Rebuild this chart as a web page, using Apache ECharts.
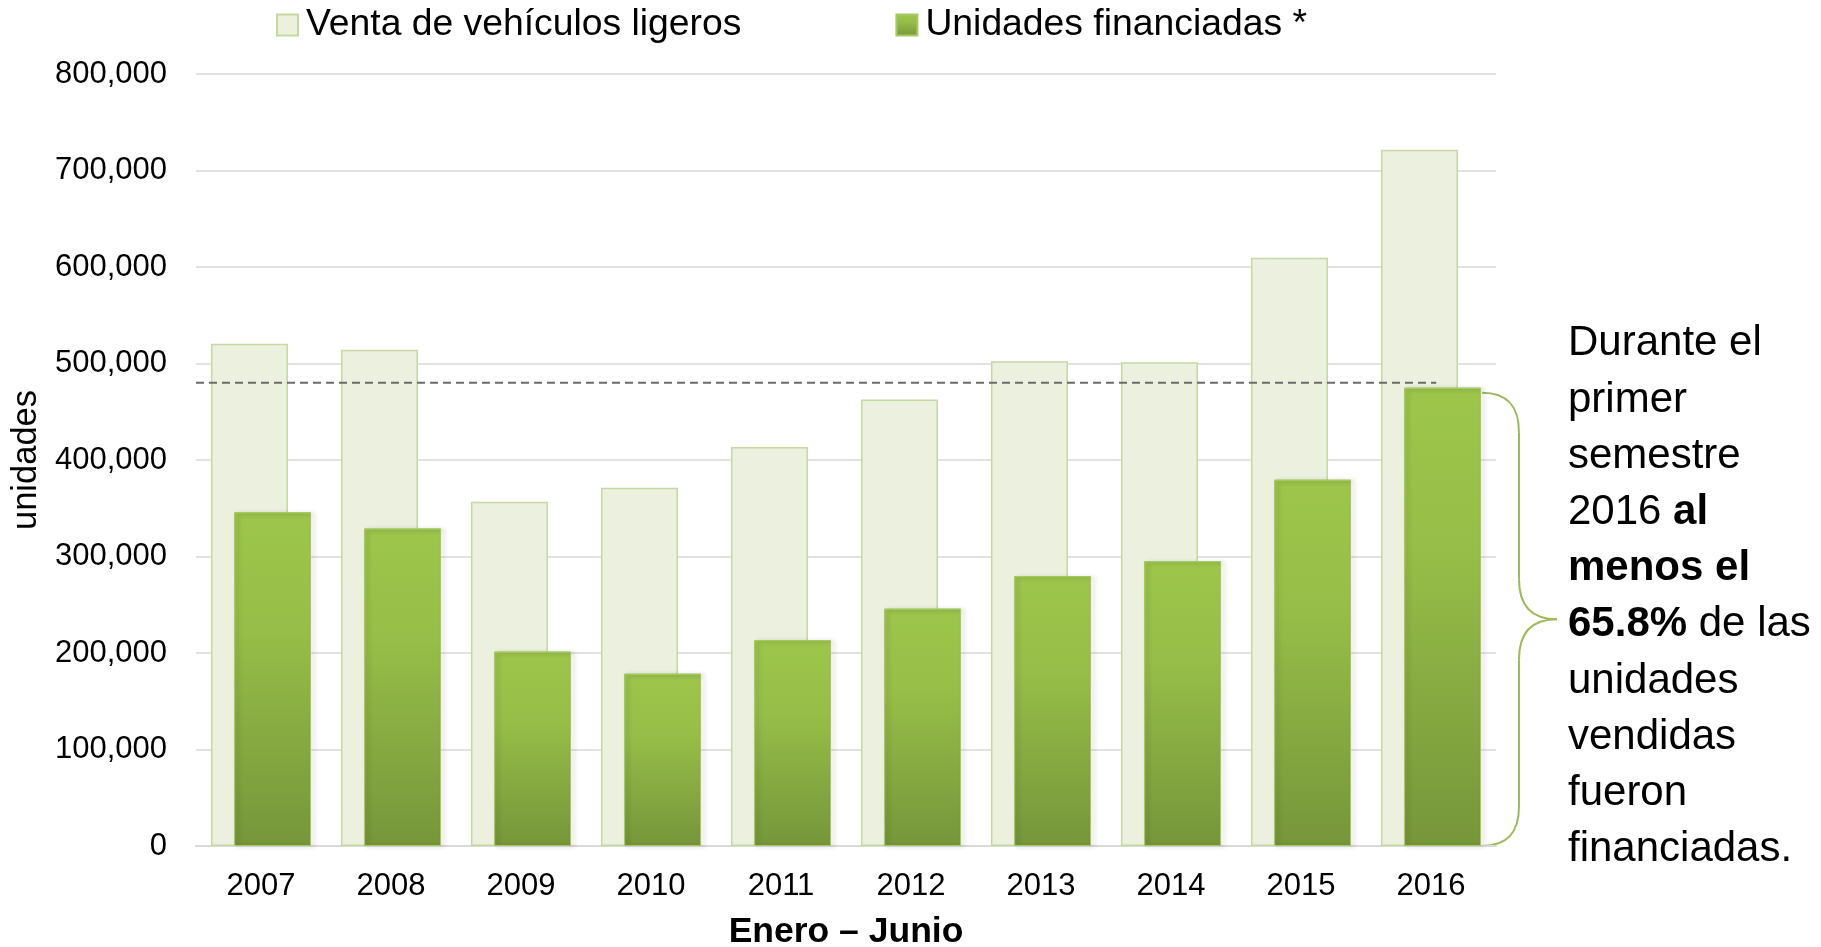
<!DOCTYPE html>
<html>
<head>
<meta charset="utf-8">
<script src="https://cdn.jsdelivr.net/npm/echarts@6/dist/echarts.min.js"></script>
<style>
  html, body { margin: 0; padding: 0; background: #fff; }
  #chart { width: 1821px; height: 947px; }
</style>
</head>
<body>
<div id="chart"></div>
<script>
// Enero – Junio de cada año
const years = ['2007', '2008', '2009', '2010', '2011', '2012', '2013', '2014', '2015', '2016']
const ventas = [520500, 514300, 356800, 371200, 413400, 462700, 502400, 501200, 609500, 721600]
const financiadas = [345900, 329100, 201500, 178600, 213500, 246000, 279800, 295300, 379600, 475000]

// dashed reference line (value, start/end in category units)
const refValue = 480000
const refStart = -0.5
const refEnd = 9.04

const yTicks = { min: 0, max: 800000, interval: 100000 }

const font = '"Liberation Sans", Arial, sans-serif'
const black = '#000'

const chart = echarts.init(document.getElementById('chart'))

chart.setOption({
  animation: false,
  backgroundColor: '#fff',
  textStyle: { fontFamily: font },
  legend: {
    left: 276,
    top: 6,
    padding: 0,
    itemWidth: 21,
    itemHeight: 21,
    itemGap: 154,
    icon: 'rect',
    textStyle: { fontSize: 37.3, color: black, fontFamily: font, lineHeight: 38, padding: [0, 0, 0, 3] },
    data: ['Venta de vehículos ligeros', 'Unidades financiadas *']
  },
  grid: { left: 196, right: 325, top: 74, bottom: 101, outerBoundsMode: 'none' },
  xAxis: [{
    type: 'category',
    data: years,
    axisTick: { show: false },
    axisLine: { lineStyle: { color: '#D9D9D9', width: 2 } },
    axisLabel: { color: black, fontSize: 31, margin: 24.5, fontFamily: font },
    name: 'Enero – Junio',
    nameLocation: 'middle',
    nameGap: 68.5,
    nameTextStyle: { fontSize: 35.5, fontWeight: 'bold', color: black, fontFamily: font }
  }, {
    type: 'value',
    show: false,
    min: -0.5,
    max: 9.5
  }],
  yAxis: {
    type: 'value',
    min: yTicks.min,
    max: yTicks.max,
    interval: yTicks.interval,
    axisLine: { show: false },
    axisTick: { show: false },
    splitLine: { lineStyle: { color: '#D9D9D9', width: 1.5 } },
    axisLabel: {
      color: black,
      fontSize: 31,
      margin: 29,
      fontFamily: font,
      formatter: v => v.toLocaleString('en-US')
    },
    name: 'unidades',
    nameLocation: 'middle',
    nameGap: 150,
    nameTextStyle: { fontSize: 34.5, color: black, fontFamily: font }
  },
  series: [
    {
      name: 'Venta de vehículos ligeros',
      type: 'bar',
      data: ventas,
      barWidth: 77,
      barGap: '-70%',
      itemStyle: { color: '#EBF0DF', borderColor: '#C4D99F', borderWidth: 1.5 }
    },
    {
      name: 'Unidades financiadas *',
      type: 'bar',
      data: financiadas,
      barWidth: 77,
      z: 4,
      itemStyle: {
        color: new echarts.graphic.LinearGradient(0, 0, 0, 1, [
          { offset: 0, color: '#9DC64B' },
          { offset: 0.35, color: '#97BE48' },
          { offset: 1, color: '#76963A' }
        ]),
        borderColor: '#A6C964',
        borderWidth: 1,
        shadowColor: 'rgba(0,0,0,0.28)',
        shadowBlur: 4,
        shadowOffsetX: 3,
        shadowOffsetY: 1
      }
    },
    {
      type: 'line',
      xAxisIndex: 1,
      data: [[refStart, refValue], [refEnd, refValue]],
      symbol: 'none',
      silent: true,
      z: 3,
      lineStyle: { color: '#6B6B6B', width: 2, type: [8, 5] }
    }
  ]
})

// curly brace + annotation next to the 2016 bar
const barRight = chart.convertToPixel({ xAxisIndex: 0 }, '2016') + 51
const yTop = chart.convertToPixel({ yAxisIndex: 0 }, financiadas[9]) + 5
const yBot = chart.convertToPixel({ yAxisIndex: 0 }, 0)
const x1 = barRight + 37
const x2 = barRight + 75
const mid = (yTop + yBot) / 2
const r = 40
const braceStyle = { stroke: '#9BBB59', lineWidth: 2, fill: null }

const curve = (ax, ay, c1x, c1y, c2x, c2y, bx, by) => ({
  type: 'bezierCurve',
  shape: { x1: ax, y1: ay, cpx1: c1x, cpy1: c1y, cpx2: c2x, cpy2: c2y, x2: bx, y2: by },
  style: braceStyle
})
const seg = (ax, ay, bx, by) => ({
  type: 'line',
  shape: { x1: ax, y1: ay, x2: bx, y2: by },
  style: braceStyle
})

const note = [
  '{n|Durante el}',
  '{n|primer}',
  '{n|semestre}',
  '{n|2016 }{b|al}',
  '{b|menos el}',
  '{b|65.8%}{n| de las}',
  '{n|unidades}',
  '{n|vendidas}',
  '{n|fueron}',
  '{n|financiadas.}'
].join('\n')

chart.setOption({
  graphic: [
    {
      type: 'group',
      children: [
        curve(barRight, yTop, barRight + 26, yTop, x1, yTop + 14, x1, yTop + r),
        seg(x1, yTop + r, x1, mid - r),
        curve(x1, mid - r, x1, mid - 12, x1 + 14, mid, x2, mid),
        curve(x2, mid, x1 + 14, mid, x1, mid + 12, x1, mid + r),
        seg(x1, mid + r, x1, yBot - r),
        curve(x1, yBot - r, x1, yBot - 14, barRight + 26, yBot, barRight, yBot)
      ]
    },
    {
      type: 'text',
      x: 1568,
      y: mid - 5.5 * 56 + 4.5,
      style: {
        text: note,
        fill: black,
        rich: {
          n: { fontSize: 42, fontFamily: font, lineHeight: 56.2, fill: black },
          b: { fontSize: 42, fontFamily: font, fontWeight: 'bold', lineHeight: 56.2, fill: black }
        }
      }
    }
  ]
})
</script>
</body>
</html>
